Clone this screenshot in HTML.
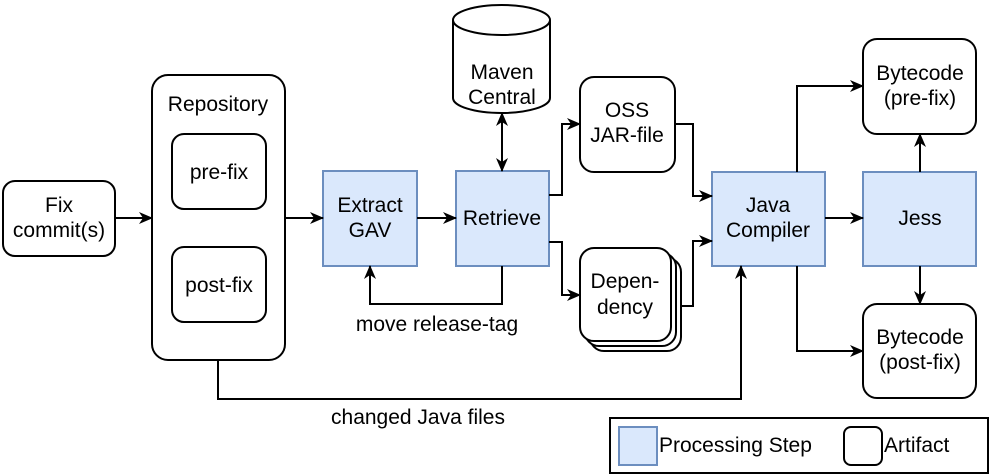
<!DOCTYPE html>
<html><head><style>body{margin:0;background:#fff}svg{display:block}text{font-family:"Liberation Sans",Arial,sans-serif;font-size:21px;fill:#000}</style></head><body>
<svg width="996" height="476" viewBox="0 0 996 476" xmlns="http://www.w3.org/2000/svg">
<defs><marker id="a" markerWidth="14" markerHeight="14" refX="13" refY="7" orient="auto" markerUnits="userSpaceOnUse"><path d="M0,1 L14,7 L0,13 L4,7 Z" fill="#000"/></marker>
<marker id="b" markerWidth="14" markerHeight="14" refX="1" refY="7" orient="auto" markerUnits="userSpaceOnUse"><path d="M14,1 L0,7 L14,13 L10,7 Z" fill="#000"/></marker></defs>
<g fill="#fff" stroke="#000" stroke-width="2">
<rect x="3" y="181" width="112" height="75" rx="12"/>
<rect x="152" y="75" width="133" height="285" rx="16"/>
<rect x="172" y="134" width="94" height="75" rx="12"/>
<rect x="172" y="247" width="94" height="75" rx="12"/>
<rect x="580" y="77" width="95" height="95" rx="14"/>
<rect x="590" y="258" width="91" height="93" rx="14"/>
<rect x="585" y="253" width="91" height="93" rx="14"/>
<rect x="580" y="248" width="91" height="93" rx="14"/>
<rect x="863" y="39" width="113" height="95" rx="14"/>
<rect x="863" y="304" width="113" height="94" rx="14"/>
<path d="M453,20 A48.5,15 0 0 1 550,20 L550,98 A48.5,15 0 0 1 453,98 Z"/>
<path d="M453,20 A48.5,15 0 0 0 550,20" fill="none"/>
<rect x="610" y="418" width="378" height="55" fill="none"/>
<rect x="844" y="427" width="38" height="38" rx="7"/>
</g>
<g fill="#dae8fc" stroke="#6c8ebf" stroke-width="2">
<rect x="323" y="171" width="94" height="95"/>
<rect x="456" y="171" width="93" height="95"/>
<rect x="712" y="172" width="113" height="94"/>
<rect x="863" y="172" width="113" height="94"/>
<rect x="619" y="427" width="38" height="38"/>
</g>
<g fill="none" stroke="#000" stroke-width="2" marker-end="url(#a)">
<path d="M115,218 H152"/>
<path d="M285,218 H323"/>
<path d="M417,218 H456"/>
<path d="M502,266 V304 H370 V266"/>
<path d="M502,113 V171" marker-start="url(#b)"/>
<path d="M549,195 H562 V124 H580"/>
<path d="M549,242 H562 V295 H580"/>
<path d="M675,124 H693 V196 H712"/>
<path d="M681,306 H693 V241 H712"/>
<path d="M218,360 V399 H741 V266"/>
<path d="M825,218 H863"/>
<path d="M797,172 V86 H863"/>
<path d="M797,266 V351 H863"/>
<path d="M920,172 V134"/>
<path d="M920,266 V304"/>
</g>
<g text-anchor="middle">
<text x="59" y="212">Fix</text><text x="59" y="237">commit(s)</text>
<text x="218" y="111">Repository</text>
<text x="219" y="179">pre-fix</text>
<text x="219" y="292">post-fix</text>
<text x="370" y="212">Extract</text><text x="370" y="237">GAV</text>
<text x="502" y="225">Retrieve</text>
<text x="502" y="79">Maven</text><text x="502" y="104">Central</text>
<text x="627" y="117">OSS</text><text x="627" y="142">JAR-file</text>
<text x="625" y="288">Depen-</text><text x="625" y="314">dency</text>
<text x="768" y="212">Java</text><text x="768" y="237">Compiler</text>
<text x="920" y="225">Jess</text>
<text x="920" y="80">Bytecode</text><text x="920" y="105">(pre-fix)</text>
<text x="920" y="344">Bytecode</text><text x="920" y="369">(post-fix)</text>
<text x="437" y="331">move release-tag</text>
<text x="418" y="424">changed Java files</text>
</g>
<text x="659" y="452">Processing Step</text>
<text x="884" y="452">Artifact</text>
</svg>
</body></html>
